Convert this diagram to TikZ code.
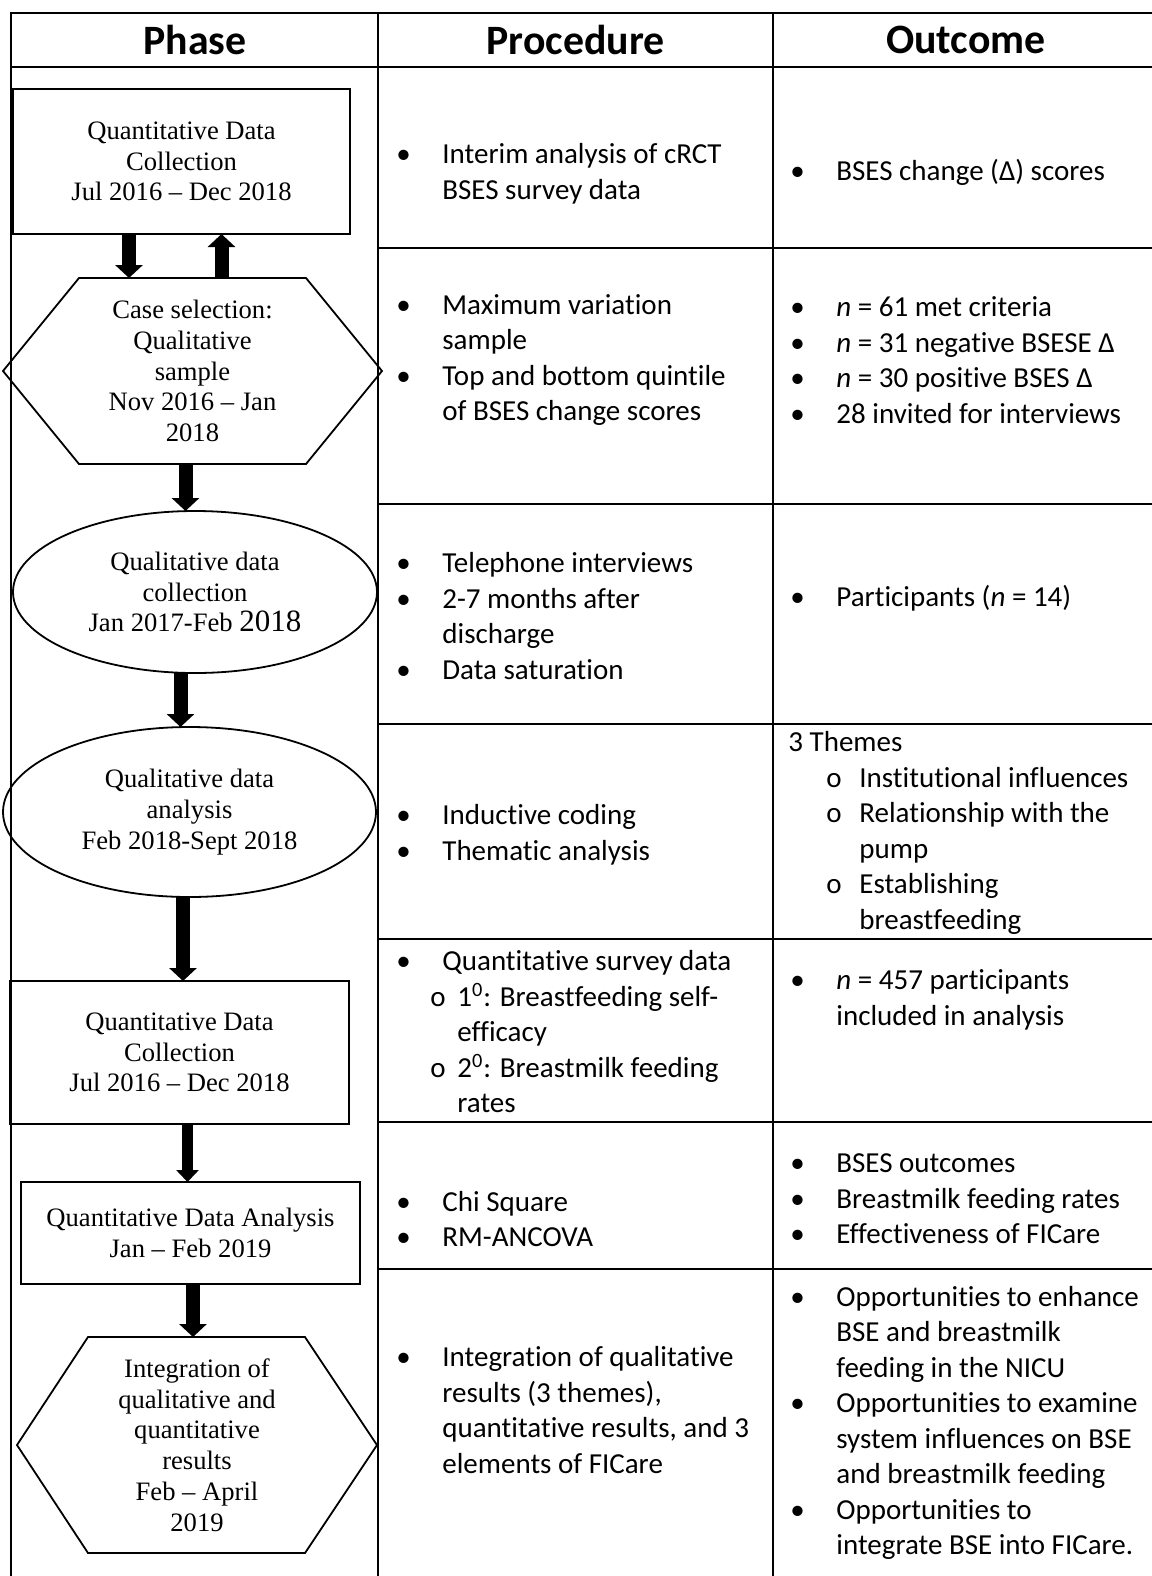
\documentclass[tikz,border=0pt]{standalone}
\usepackage{fontspec}
\setmainfont{Carlito}[Ligatures={TeX,NoCommon}]
\newfontfamily\phasefont{Liberation Serif}[Ligatures=TeX]
\usepackage{tikz}
\usetikzlibrary{arrows.meta,shapes.geometric}

\newcommand{\bul}{\makebox[23pt][l]{\textbullet}}
\newcommand{\cont}{\hspace*{23pt}}

\begin{document}
\begin{tikzpicture}[
    x=0.5pt, y=-0.5pt,
    grid/.style={line width=1pt},
    phase/.style={inner sep=0pt, outer sep=0pt, align=center,
        font=\phasefont\fontsize{13.3}{15.4}\selectfont},
    boxnode/.style={phase, draw, line width=1pt},
    ellnode/.style={phase, draw, ellipse, line width=0.9pt},
    hexnode/.style={phase},
    hexline/.style={line width=0.9pt},
    head/.style={font=\bfseries\fontsize{20.9}{24}\selectfont, inner sep=0pt},
    cell/.style={anchor=west, align=left, inner sep=0pt,
        font=\fontsize{14.5}{17.75}\selectfont},
    bigarr/.style={line width=7pt, -{Triangle[length=6.5pt, width=13.5pt]}},
    thinarr/.style={line width=5.5pt, -{Triangle[length=6pt, width=11pt]}},
]
\useasboundingbox (0,0) rectangle (1152,1576);

% --- Table grid ---
\draw[grid] (11,1576) -- (11,13) -- (1152,13);
\draw[grid] (11,67) -- (1152,67);
\foreach \x in {378,773} {
    \draw[grid] (\x,13) -- (\x,1576);
}
\foreach \y in {248,504,724,939,1122,1269} {
    \draw[grid] (378,\y) -- (1152,\y);
}

% --- Headers ---
\node[head] (hphase) at (195,40) {Phase};
\node[head] (hproc) at (575.5,40) {Procedure};
\node[head] (hout) at (966,40) {Outcome};

% --- Phase column shapes ---
\node[boxnode, minimum width=168.5pt, minimum height=72.5pt] (qdc1) at (181.5,161.5)
    {Quantitative Data\\Collection\\Jul 2016 -- Dec 2018};
\node[hexnode, minimum width=189.5pt, minimum height=93pt] (case) at (192.5,371)
    {Case selection:\\Qualitative\\sample\\Nov 2016 -- Jan\\2018};
\draw[hexline] (case.west) -- ([xshift=38pt]case.north west) -- ([xshift=-38pt]case.north east)
    -- (case.east) -- ([xshift=-38pt]case.south east) -- ([xshift=38pt]case.south west) -- cycle;
\node[ellnode, minimum width=182pt, minimum height=81pt] (qlc) at (195,592)
    {Qualitative data\\collection\\Jan 2017-Feb {\fontsize{15.5}{15.4}\selectfont 2018}};
\node[ellnode, minimum width=186.5pt, minimum height=85pt] (qla) at (189.5,812)
    {Qualitative data\\analysis\\Feb 2018-Sept 2018};
\node[boxnode, minimum width=169.5pt, minimum height=71.5pt] (qdc2) at (179.5,1052.5)
    {Quantitative Data\\Collection\\Jul 2016 -- Dec 2018};
\node[boxnode, minimum width=169.5pt, minimum height=51pt] (qda) at (190.5,1233)
    {Quantitative Data Analysis\\Jan -- Feb 2019};
\node[hexnode, minimum width=180pt, minimum height=108pt] (integ) at (197,1445)
    {Integration of\\qualitative and\\quantitative\\results\\Feb -- April\\2019};
\draw[hexline] (integ.west) -- ([xshift=35.5pt]integ.north west) -- ([xshift=-36pt]integ.north east)
    -- (integ.east) -- ([xshift=-36pt]integ.south east) -- ([xshift=35.5pt]integ.south west) -- cycle;

% --- Flow arrows ---
\draw[bigarr] (qdc1.south -| 129,0) -- (case.north -| 129,0);
\draw[bigarr] (case.north -| 221.5,0) -- (qdc1.south -| 221.5,0);
\draw[bigarr] (case.south -| 185.5,0) -- (qlc.north -| 185.5,0);
\draw[bigarr] (qlc.south -| 180.5,0) -- (qla.north -| 180.5,0);
\draw[bigarr] (qla.south -| 183,0) -- (qdc2.north -| 183,0);
\draw[thinarr] (qdc2.south -| 187.5,0) -- (qda.north -| 187.5,0);
\draw[bigarr] (qda.south -| 193,0) -- (integ.north -| 193,0);

% --- Procedure column ---
\node[cell] (proc1) at (396,174) {\bul Interim analysis of cRCT\\\cont BSES survey data};
\node[cell] (proc2) at (396,360) {\bul Maximum variation\\\cont sample\\\bul Top and bottom quintile\\\cont of BSES change scores};
\node[cell] (proc3) at (396,616) {\bul Telephone interviews\\\bul 2-7 months after\\\cont discharge\\\bul Data saturation};
\node[cell] (proc4) at (396,835) {\bul Inductive coding\\\bul Thematic analysis};
\node[cell] (proc5) at (396,1032) {\bul Quantitative survey data\\
    \hspace*{17pt}\makebox[13.5pt][l]{o}1\textsuperscript{0}: Breastfeeding self-\\
    \hspace*{30.5pt}efficacy\\
    \hspace*{17pt}\makebox[13.5pt][l]{o}2\textsuperscript{0}: Breastmilk feeding\\
    \hspace*{30.5pt}rates};
\node[cell] (proc6) at (396,1219) {\bul Chi Square\\\bul RM-ANCOVA};
\node[cell] (proc7) at (396,1410) {\bul Integration of qualitative\\\cont results (3 themes),\\\cont quantitative results, and 3\\\cont elements of FICare};

% --- Outcome column ---
\node[cell] (out1) at (790,172) {\bul BSES change (Δ) scores};
\node[cell] (out2) at (790,360) {\bul \textit{n} = 61 met criteria\\\bul \textit{n} = 31 negative BSESE Δ\\\bul \textit{n} = 30 positive BSES Δ\\\bul 28 invited for interviews};
\node[cell] (out3) at (790,598) {\bul Participants (\textit{n} = 14)};
\node[cell] (out4) at (788,833) {3 Themes\\
    \hspace*{19pt}\makebox[16.5pt][l]{o}Institutional influences\\
    \hspace*{19pt}\makebox[16.5pt][l]{o}Relationship with the\\
    \hspace*{35.5pt}pump\\
    \hspace*{19pt}\makebox[16.5pt][l]{o}Establishing\\
    \hspace*{35.5pt}breastfeeding};
\node[cell] (out5) at (790,1000) {\bul \textit{n} = 457 participants\\\cont included in analysis};
\node[cell] (out6) at (790,1199) {\bul BSES outcomes\\\bul Breastmilk feeding rates\\\bul Effectiveness of FICare};
\node[cell] (out7) at (790,1423) {\bul Opportunities to enhance\\\cont BSE and breastmilk\\\cont feeding in the NICU\\
    \bul Opportunities to examine\\\cont system influences on BSE\\\cont and breastmilk feeding\\
    \bul Opportunities to\\\cont integrate BSE into FICare.};

\end{tikzpicture}
\end{document}
